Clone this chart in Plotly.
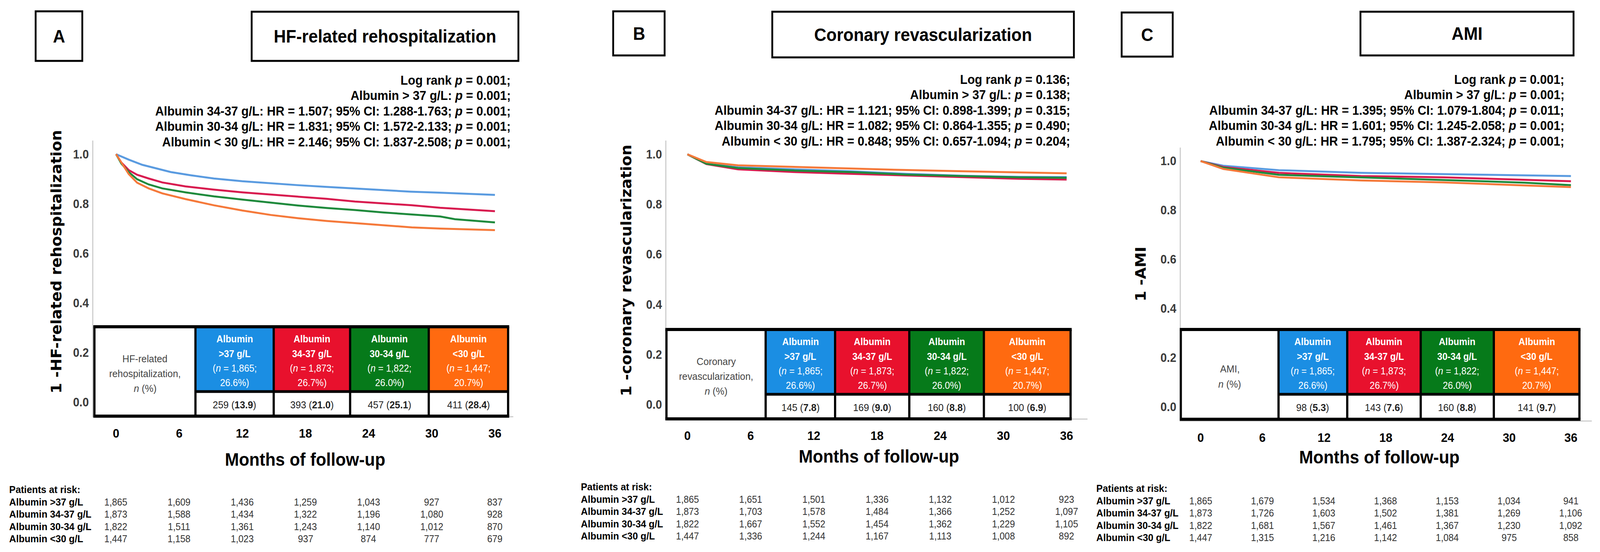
import plotly.graph_objects as go

W, H = 4355, 1414
ARIAL = "Liberation Sans, Arial, sans-serif"
WIDE = "DejaVu Sans, Verdana, sans-serif"

# ---- data ----
month_ticks = [0, 6, 12, 18, 24, 30, 36]
group_labels = ["Albumin >37 g/L", "Albumin 34-37 g/L", "Albumin 30-34 g/L", "Albumin <30 g/L"]
group_heads = [">37 g/L", "34-37 g/L", "30-34 g/L", "<30 g/L"]
group_n = ["1,865", "1,873", "1,822", "1,447"]
group_pct = ["26.6%", "26.7%", "26.0%", "20.7%"]
line_colors = ["#5a9be0", "#d81b4f", "#1f8a3c", "#f5793a"]
cell_colors = ["#1b8ee3", "#e8112d", "#067a1a", "#ff6a10"]

# A: HF-related rehospitalization
hf_blue_t = [0, 1.2, 2.5, 3.9, 5.2, 7.1, 9.3, 12, 14.7, 17.3, 20, 22.7, 25.3, 28, 30.7, 33.3, 36]
hf_blue = [1.0, 0.978, 0.957, 0.941, 0.928, 0.915, 0.902, 0.891, 0.882, 0.875, 0.868, 0.862, 0.855, 0.849, 0.845, 0.840, 0.836]
hf_red_t = [0, 0.5, 1.2, 2.0, 3.1, 4.4, 6.6, 9.3, 12, 14.7, 17.3, 20, 22.7, 25.4, 28.1, 30.8, 33.5, 36]
hf_red = [1.0, 0.967, 0.936, 0.917, 0.902, 0.886, 0.870, 0.857, 0.846, 0.837, 0.828, 0.820, 0.809, 0.801, 0.794, 0.784, 0.777, 0.770]
hf_green_t = [0, 0.5, 1.2, 2.0, 3.1, 4.4, 6.6, 9.3, 12, 14.7, 17.3, 20, 22.7, 25.4, 28.1, 30.8, 32.2, 36]
hf_green = [1.0, 0.962, 0.928, 0.899, 0.878, 0.862, 0.846, 0.830, 0.817, 0.804, 0.793, 0.783, 0.775, 0.765, 0.757, 0.749, 0.738, 0.725]
hf_orange_t = [0, 0.7, 1.2, 2.0, 3.1, 4.4, 6.6, 9.3, 12, 14.7, 17.3, 20, 22.7, 25.4, 28.1, 30.8, 33.5, 36]
hf_orange = [1.0, 0.952, 0.920, 0.885, 0.862, 0.842, 0.819, 0.794, 0.773, 0.755, 0.742, 0.731, 0.722, 0.713, 0.705, 0.700, 0.697, 0.694]

# B: coronary revascularization
cr_t = [0, 1.8, 4.8, 10.2, 15.5, 20.8, 26.2, 31.5, 36]
cr_blue = [1.0, 0.963, 0.948, 0.940, 0.932, 0.922, 0.914, 0.910, 0.909]
cr_red = [1.0, 0.961, 0.940, 0.929, 0.922, 0.916, 0.909, 0.902, 0.899]
cr_green = [1.0, 0.962, 0.945, 0.935, 0.929, 0.919, 0.913, 0.908, 0.906]
cr_orange = [1.0, 0.969, 0.956, 0.949, 0.943, 0.937, 0.932, 0.927, 0.924]

# C: AMI
ami_t = [0, 2.2, 7.6, 15.6, 23.6, 27.4, 31.5, 36]
ami_blue = [1.0, 0.981, 0.963, 0.952, 0.947, 0.944, 0.941, 0.939]
ami_red = [1.0, 0.976, 0.952, 0.939, 0.934, 0.929, 0.922, 0.918]
ami_green = [1.0, 0.973, 0.944, 0.934, 0.923, 0.918, 0.912, 0.902]
ami_orange = [1.0, 0.968, 0.934, 0.921, 0.913, 0.908, 0.901, 0.894]

hf_events = [("259", "13.9"), ("393", "21.0"), ("457", "25.1"), ("411", "28.4")]
cr_events = [("145", "7.8"), ("169", "9.0"), ("160", "8.8"), ("100", "6.9")]
ami_events = [("98", "5.3"), ("143", "7.6"), ("160", "8.8"), ("141", "9.7")]

hf_stats = [
    "Log rank <i>p</i> = 0.001;",
    "Albumin > 37 g/L: <i>p</i> = 0.001;",
    "Albumin 34-37 g/L: HR = 1.507; 95% CI: 1.288-1.763; <i>p</i> = 0.001;",
    "Albumin 30-34 g/L: HR = 1.831; 95% CI: 1.572-2.133; <i>p</i> = 0.001;",
    "Albumin < 30 g/L: HR = 2.146; 95% CI: 1.837-2.508; <i>p</i> = 0.001;",
]
cr_stats = [
    "Log rank <i>p</i> = 0.136;",
    "Albumin > 37 g/L: <i>p</i> = 0.138;",
    "Albumin 34-37 g/L: HR = 1.121; 95% CI: 0.898-1.399; <i>p</i> = 0.315;",
    "Albumin 30-34 g/L: HR = 1.082; 95% CI: 0.864-1.355; <i>p</i> = 0.490;",
    "Albumin < 30 g/L: HR = 0.848; 95% CI: 0.657-1.094; <i>p</i> = 0.204;",
]
ami_stats = [
    "Log rank <i>p</i> = 0.001;",
    "Albumin > 37 g/L: <i>p</i> = 0.001;",
    "Albumin 34-37 g/L: HR = 1.395; 95% CI: 1.079-1.804; <i>p</i> = 0.011;",
    "Albumin 30-34 g/L: HR = 1.601; 95% CI: 1.245-2.058; <i>p</i> = 0.001;",
    "Albumin < 30 g/L: HR = 1.795; 95% CI: 1.387-2.324; <i>p</i> = 0.001;",
]

hf_risk = [[1865, 1609, 1436, 1259, 1043, 927, 837],
           [1873, 1588, 1434, 1322, 1196, 1080, 928],
           [1822, 1511, 1361, 1243, 1140, 1012, 870],
           [1447, 1158, 1023, 937, 874, 777, 679]]
cr_risk = [[1865, 1651, 1501, 1336, 1132, 1012, 923],
           [1873, 1703, 1578, 1484, 1366, 1252, 1097],
           [1822, 1667, 1552, 1454, 1362, 1229, 1105],
           [1447, 1336, 1244, 1167, 1113, 1008, 892]]
ami_risk = [[1865, 1679, 1534, 1368, 1153, 1034, 941],
            [1873, 1726, 1603, 1502, 1381, 1269, 1106],
            [1822, 1681, 1567, 1461, 1367, 1230, 1092],
            [1447, 1315, 1216, 1142, 1084, 975, 858]]

# ---- layout of the three panels (pixels) ----
panels = [
    dict(letter="A", title="HF-related rehospitalization",
         ytitle="1 -HF-related rehospitalization", table_label=["HF-related", "rehospitalization,", "<i>n</i> (%)"],
         curves=[(hf_blue_t, hf_blue), (hf_red_t, hf_red), (hf_green_t, hf_green), (hf_orange_t, hf_orange)],
         events=hf_events, stats=hf_stats, risk=hf_risk,
         dom_x=(254, 1397), xr=(-2.16, 37.74), dom_y=(360, 1066),
         letter_box=(97, 29, 224, 156), title_box=(685, 30, 1411, 156),
         stats_right=1392, stats_y=205, ytitle_xy=(153, 671), xtitle_xy=(830, 1177),
         table_x=[257, 532, 745, 953, 1167, 1383], table_y=(837, 1003, 1066),
         risk_x=23, risk_y=1254),
    dict(letter="B", title="Coronary revascularization",
         ytitle="1 -coronary revascularization", table_label=["Coronary", "revascularization,", "<i>n</i> (%)"],
         curves=[(cr_t, cr_blue), (cr_t, cr_red), (cr_t, cr_green), (cr_t, cr_orange)],
         events=cr_events, stats=cr_stats, risk=cr_risk,
         dom_x=(1814, 2960), xr=(-1.99, 37.98), dom_y=(360, 1072),
         letter_box=(1669, 29, 1809, 142), title_box=(2102, 30, 2923, 147),
         stats_right=2915, stats_y=203, ytitle_xy=(1704, 693), xtitle_xy=(2392, 1169),
         table_x=[1814, 2084, 2273, 2475, 2678, 2914], table_y=(844, 1010, 1073),
         risk_x=1579, risk_y=1247),
    dict(letter="C", title="AMI",
         ytitle="1 -AMI", table_label=["AMI,", "<i>n</i> (%)"],
         curves=[(ami_t, ami_blue), (ami_t, ami_red), (ami_t, ami_green), (ami_t, ami_orange)],
         events=ami_events, stats=ami_stats, risk=ami_risk,
         dom_x=(3214, 4333), xr=(-1.93, 38.04), dom_y=(378, 1077),
         letter_box=(3053, 32, 3192, 145), title_box=(3703, 30, 4283, 142),
         stats_right=4260, stats_y=203, ytitle_xy=(3105, 702), xtitle_xy=(3754, 1171),
         table_x=[3214, 3480, 3667, 3867, 4066, 4299], table_y=(844, 1010, 1074),
         risk_x=2982, risk_y=1251),
]
y_range = [-0.056, 1.055]


def px(x):
    return x / W


def py(y):
    return 1 - y / H


fig = go.Figure()


def text(x, y, s, size, color="black", xanchor="center", family=ARIAL, angle=0, xref="paper"):
    fig.add_annotation(x=x if xref != "paper" else px(x), y=py(y), xref=xref, yref="paper",
                       text=s, showarrow=False, xanchor=xanchor, yanchor="middle",
                       textangle=angle, font=dict(size=size, color=color, family=family))


def box(x0, y0, x1, y1, width=5, fill="white"):
    fig.add_shape(type="rect", xref="paper", yref="paper", x0=px(x0), x1=px(x1),
                  y0=py(y0), y1=py(y1), line=dict(color="black", width=width), fillcolor=fill)


def hline(x0, x1, y, width=6):
    fig.add_shape(type="line", xref="paper", yref="paper", x0=px(x0), x1=px(x1),
                  y0=py(y), y1=py(y), line=dict(color="black", width=width))


def vline(x, y0, y1, width=6):
    fig.add_shape(type="line", xref="paper", yref="paper", x0=px(x), x1=px(x),
                  y0=py(y0), y1=py(y1), line=dict(color="black", width=width))


for i, p in enumerate(panels):
    ax = "" if i == 0 else str(i + 1)
    xa, ya = "x" + ax, "y" + ax

    for (t, v), col in zip(p["curves"], line_colors):
        fig.add_trace(go.Scatter(x=t, y=v, mode="lines", line=dict(color=col, width=5),
                                 xaxis=xa, yaxis=ya, showlegend=False, hoverinfo="skip"))

    fig.update_layout(**{
        "xaxis" + ax: dict(domain=[px(p["dom_x"][0]), px(p["dom_x"][1])], range=list(p["xr"]),
                           tickvals=month_ticks, showgrid=False, zeroline=False, showline=True,
                           linecolor="#cfcfcf", linewidth=3, ticks="", ticklabelstandoff=14,
                           tickfont=dict(size=32, family=ARIAL, color="black", weight="bold"),
                           anchor=ya),
        "yaxis" + ax: dict(domain=[py(p["dom_y"][1]), py(p["dom_y"][0])], range=y_range,
                           tickvals=[0, 0.2, 0.4, 0.6, 0.8, 1.0], tickformat=".1f",
                           showgrid=False, zeroline=False, showline=True, linecolor="#cfcfcf",
                           linewidth=3, ticks="", ticklabelstandoff=3,
                           tickfont=dict(size=31, family=ARIAL, color="#3a3a3a", weight="bold"),
                           anchor=xa),
    })

    # panel letter and title boxes
    lb, tb = p["letter_box"], p["title_box"]
    box(*lb)
    text((lb[0] + lb[2]) / 2, (lb[1] + lb[3]) / 2, "<b>%s</b>" % p["letter"], 46)
    box(*tb)
    text((tb[0] + tb[2]) / 2, (tb[1] + tb[3]) / 2, "<b>%s</b>" % p["title"], 46)

    # statistics
    for k, s in enumerate(p["stats"]):
        text(p["stats_right"], p["stats_y"] + 39.5 * k, "<b>%s</b>" % s, 33, xanchor="right")

    text(*p["ytitle_xy"], "<b>%s</b>" % p["ytitle"], 39, family=WIDE, angle=-90)
    text(*p["xtitle_xy"], "<b>Months of follow-up</b>", 46)

    # table inside the plot
    tx = p["table_x"]
    top, mid, bot = p["table_y"]
    for c in range(4):
        fig.add_shape(type="rect", xref="paper", yref="paper", x0=px(tx[c + 1]), x1=px(tx[c + 2]),
                      y0=py(mid), y1=py(top), line_width=0, fillcolor=cell_colors[c])
        cx = (tx[c + 1] + tx[c + 2]) / 2
        text(cx, top + 31, "<b>Albumin</b>", 25, color="white")
        text(cx, top + 69, "<b>%s</b>" % group_heads[c], 25, color="white")
        text(cx, top + 106, "(<i>n</i> = %s;" % group_n[c], 25, color="white")
        text(cx, top + 143, "%s)" % group_pct[c], 25, color="white")
        n, pct = p["events"][c]
        text(cx, mid + 34, "%s (<b>%s</b>)" % (n, pct), 26, color="#222222")
    hline(tx[0] - 3, tx[-1] + 3, top, 8)
    hline(tx[0] - 3, tx[-1] + 3, bot, 8)
    hline(tx[1], tx[-1], mid, 7)
    for x in tx:
        vline(x, top, bot)
    lx = (tx[0] + tx[1]) / 2
    lab = p["table_label"]
    if len(lab) == 3:
        ys = [top + 82, top + 120, top + 158]
    else:
        ys = [top + 101, top + 140]
    for s, yy in zip(lab, ys):
        text(lx, yy, s, 26, color="#444444")

    # patients at risk
    text(p["risk_x"], p["risk_y"], "<b>Patients at risk:</b>", 26, xanchor="left")
    for r, (name, row) in enumerate(zip(group_labels, p["risk"])):
        yy = p["risk_y"] + 31.5 * (r + 1)
        text(p["risk_x"], yy, "<b>%s</b>" % name, 26, xanchor="left")
        for m, val in zip(month_ticks, row):
            text(m, yy, f"{val:,}", 25, color="#333333", xref=xa)

fig.update_layout(width=W, height=H, margin=dict(l=0, r=0, t=0, b=0),
                  paper_bgcolor="white", plot_bgcolor="white",
                  font=dict(family=ARIAL, color="black"))

# the browser viewport can be smaller than the figure; scale the page to fit it
fit_js = """
document.body.style.margin = '0';
document.body.style.overflow = 'hidden';
var gd = document.getElementById('{plot_id}');
gd.style.transformOrigin = '0 0';
gd.style.transform = 'scale(' + (window.innerWidth / %d) + ',' + (window.innerHeight / %d) + ')';
""" % (W, H)

fig.write_html("out.html", post_script=fit_js, config={"displayModeBar": False})
